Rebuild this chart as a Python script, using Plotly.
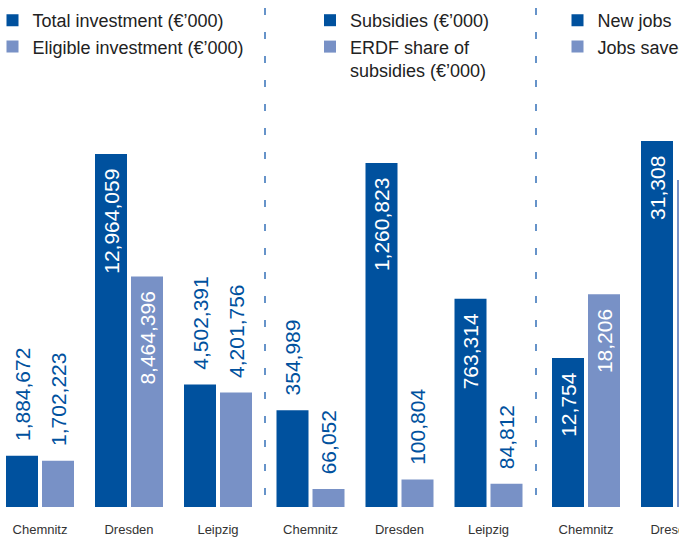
import plotly.graph_objects as go

# ---------------- data ----------------
cities = ["Chemnitz", "Dresden", "Leipzig"]
total_investment = [1884672, 12964059, 4502391]
eligible_investment = [1702223, 8464396, 4201756]
subsidies = [354989, 1260823, 763314]
erdf_share = [66052, 100804, 84812]
job_cities = ["Chemnitz", "Dresden"]
new_jobs = [12754, 31308]
jobs_saved = [18206, 27970]

# label placement per bar (inside = white text at top of bar)
pos_total = ["outside", "inside", "outside"]
pos_eligible = ["outside", "inside", "outside"]
pos_subsidies = ["outside", "inside", "inside"]
pos_erdf = ["outside", "outside", "outside"]
pos_new = ["inside", "inside"]
pos_saved = ["inside", "inside"]

DARK = "#00519E"
LIGHT = "#7891C6"
SEP = "#3470B8"
W, H = 679, 539
BOTTOM = 507  # pixel of bar baseline
NB = "\u00a0\u00a0"


def labels(vals, pos):
    out = []
    for v, p in zip(vals, pos):
        s = f"{v:,}"
        out.append(s + NB if p == "inside" else NB + s)
    return out


VAL_FONT = dict(family="Liberation Sans, Arial, sans-serif", size=21)


def bar(x, y, pos, color, name, xa, ya, leg):
    return go.Bar(
        x=x, y=y, name=name, marker=dict(color=color, line=dict(width=0)),
        text=labels(y, pos), textposition=pos, textangle=-90,
        insidetextanchor="end", constraintext="none",
        textfont=VAL_FONT,
        insidetextfont=dict(color="white", **VAL_FONT),
        outsidetextfont=dict(color=DARK, **VAL_FONT),
        xaxis=xa, yaxis=ya, legend=leg, cliponaxis=True,
        hoverinfo="x+y",
    )


fig = go.Figure()
fig.add_trace(bar(cities, total_investment, pos_total, DARK, "Total investment (€’000)", "x", "y", "legend"))
fig.add_trace(bar(cities, eligible_investment, pos_eligible, LIGHT, "Eligible investment (€’000)", "x", "y", "legend"))
fig.add_trace(bar(cities, subsidies, pos_subsidies, DARK, "Subsidies (€’000)", "x2", "y2", "legend2"))
fig.add_trace(bar(cities, erdf_share, pos_erdf, LIGHT, "ERDF share of<br>subsidies (€’000)", "x2", "y2", "legend2"))
fig.add_trace(bar(job_cities, new_jobs, pos_new, DARK, "New jobs", "x3", "y3", "legend3"))
fig.add_trace(bar(job_cities, jobs_saved, pos_saved, LIGHT, "Jobs saved", "x3", "y3", "legend3"))

UNIT = 89.0  # px per category


def xrange(px0, px1, c0):
    return [(px0 - c0) / UNIT, (px1 - c0) / UNIT]


TICKFONT = dict(family="Liberation Sans, Arial, sans-serif", size=13, color="#333333")
xcommon = dict(type="category", showgrid=False, zeroline=False, showline=False,
               ticks="", ticklabelstandoff=13, tickfont=TICKFONT, ticklabeloverflow="allow",
               fixedrange=True)
panels = [(0, 265, 40.0), (265, 536, 310.5), (536, 679, 586.0)]
for i, (a, b, c) in enumerate(panels):
    key = "xaxis" if i == 0 else f"xaxis{i+1}"
    fig.layout[key] = dict(domain=[a / W, b / W], range=xrange(a, b, c),
                           anchor="y" if i == 0 else f"y{i+1}", **xcommon)


def ytop(val, top_px):
    return val * BOTTOM / (BOTTOM - top_px)


ytops = [ytop(max(total_investment), 154), ytop(max(subsidies), 163), ytop(max(new_jobs), 141)]
for i, t in enumerate(ytops):
    key = "yaxis" if i == 0 else f"yaxis{i+1}"
    fig.layout[key] = dict(domain=[0, 1], range=[0, t], visible=False,
                           anchor="x" if i == 0 else f"x{i+1}", fixedrange=True)

LEGFONT = dict(family="Liberation Sans, Arial, sans-serif", size=18, color="#222222")
legcommon = dict(font=LEGFONT, bgcolor="rgba(0,0,0,0)", borderwidth=0,
                 yanchor="top", xanchor="left", y=1.0 - 2 / BOTTOM, traceorder="normal",
                 valign="top", itemclick=False, itemdoubleclick=False)
fig.update_layout(
    legend=dict(x=-7.5 / W, **legcommon),
    legend2=dict(x=310 / W, **legcommon),
    legend3=dict(x=557.5 / W, **legcommon),
)

for xp in (265, 536):
    fig.add_shape(type="line", xref="paper", yref="paper",
                  x0=xp / W, x1=xp / W, y0=(BOTTOM - 8) / BOTTOM, y1=-2 / BOTTOM,
                  line=dict(color=SEP, width=1.5, dash="7px,17px"))

fig.update_layout(
    width=W, height=H, autosize=False,
    margin=dict(l=0, r=0, t=0, b=H - BOTTOM, pad=0, autoexpand=False),
    paper_bgcolor="white", plot_bgcolor="white",
    barmode="group", bargap=0.191, bargroupgap=0.111,
    showlegend=True,
    font=dict(family="Liberation Sans, Arial, sans-serif"),
)

fig.write_html("out.html", config={"displayModeBar": False},
               post_script="document.body.style.margin='0';document.body.style.overflow='hidden';")
